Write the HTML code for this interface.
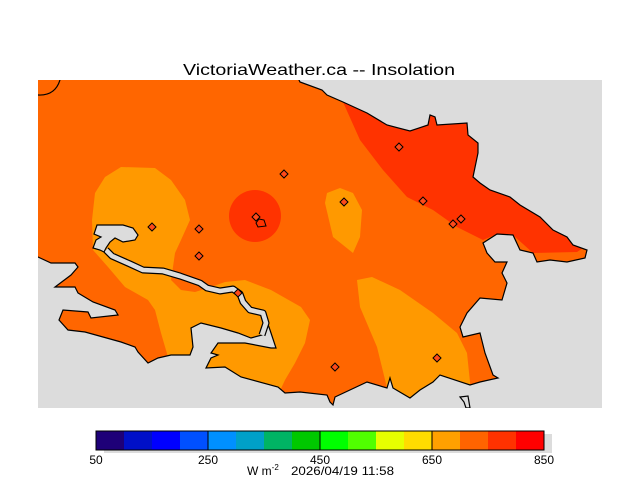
<!DOCTYPE html>
<html><head><meta charset="utf-8"><style>
html,body{margin:0;padding:0;background:#fff;}
svg{display:block;}
text{font-family:"Liberation Sans",sans-serif;fill:#000;}
</style></head><body>
<svg width="640" height="480" viewBox="0 0 640 480" xmlns="http://www.w3.org/2000/svg">
<text x="183" y="75" font-size="16" textLength="272" lengthAdjust="spacingAndGlyphs">VictoriaWeather.ca -- Insolation</text>
<defs><clipPath id="c"><rect x="38" y="80" width="564" height="328"/></clipPath></defs>
<g clip-path="url(#c)">
<rect x="38" y="80" width="564" height="328" fill="#ff6600"/>
<polygon fill="#ff9900" points="95,193 105,177 121,167 155,168 171,180 185,200 190,220 181,240 175,253 173,267 171,280 181,290 195,292 211,287 225,282 245,280 271,290 301,307 310,320 305,343 295,363 285,380 278,395 170,395 168,357 161,333 155,310 148,300 125,287 108,267 93,250 92,220"/>
<polygon fill="#ff9900" points="327,193 340,188 353,193 362,210 360,237 353,253 333,237 325,203"/>
<polygon fill="#ff9900" points="357,280 372,277 400,290 433,313 457,333 467,353 470,382 470,400 390,400 377,347 360,307"/>
<polygon fill="#ff3300" points="343,102 360,140 383,170 407,197 433,210 457,227 483,240 497,234 513,235 533,253 577,252 595,240 480,110 343,90"/>
<circle cx="255" cy="216" r="26" fill="#ff3300"/>
<polygon fill="#dcdcdc" stroke="#000" stroke-width="1.2" points="38,257 51,263 75,263 78,267 71,275 55,287 75,287 78,293 93,302 115,310 118,315 91,318 88,312 63,310 59,320 68,330 85,332 103,337 121,342 135,347 138,352 148,363 158,358 171,355 190,355 193,347 191,328 201,323 221,328 238,333 251,338 262,335 266,325 265,316 270,330 276,348 271,348 245,343 218,343 211,353 218,355 211,358 206,368 225,367 241,377 278,387 285,393 300,392 327,395 330,402 333,405 335,397 367,382 387,388 390,378 393,388 410,398 420,390 433,382 440,375 470,385 480,382 498,378 493,375 485,353 480,333 463,337 460,327 467,313 480,298 502,300 507,283 502,273 507,262 495,262 487,253 483,243 497,234 513,235 520,250 533,253 537,262 550,260 567,262 585,258 587,250 573,245 567,237 553,230 540,217 520,205 510,197 490,190 480,183 473,177 478,153 478,143 468,135 467,123 437,125 435,117 430,115 428,125 410,131 387,125 367,113 343,102 327,95 322,90 300,82 298,78 604,78 604,410 36,410 36,257"/>
<polygon fill="#dcdcdc" stroke="#000" stroke-width="1.2" points="460,397 468,396 470,408 466,408 464,402"/>
<polyline fill="none" stroke="#000" stroke-width="7" stroke-linejoin="round" points="106,250 112,256 130,264 143,270 163,271 180,276 200,283 207,288 220,291 233,289 240,294 243,302 250,310 263,313 266,323 262,335"/>
<polyline fill="none" stroke="#dcdcdc" stroke-width="4.6" stroke-linejoin="round" points="106,250 112,256 130,264 143,270 163,271 180,276 200,283 207,288 220,291 233,289 240,294 243,302 250,310 263,313 266,323 262,335"/>
<polygon fill="#dcdcdc" stroke="#000" stroke-width="1.2" points="97,225 123,225 133,228 138,235 135,240 123,242 115,238 110,242 106,248 104,252 100,250 93,248 96,240 101,237 94,234"/>
<path d="M38,95 Q55,96 60,80" fill="none" stroke="#000" stroke-width="1.2"/>
<path d="M259,219 L264,220 L266,226 L258,227 L256,223 Z" fill="none" stroke="#000" stroke-width="1"/>
<g fill="#ff4a1a" stroke="#000" stroke-width="1">
<polygon points="152,223 156,227 152,231 148,227"/>
<polygon points="199,225 203,229 199,233 195,229"/>
<polygon points="199,252 203,256 199,260 195,256"/>
<polygon points="284,170 288,174 284,178 280,174"/>
<polygon points="256,213 260,217 256,221 252,217"/>
<polygon points="238,289 242,293 238,297 234,293"/>
<polygon points="344,198 348,202 344,206 340,202"/>
<polygon points="399,143 403,147 399,151 395,147"/>
<polygon points="423,197 427,201 423,205 419,201"/>
<polygon points="453,220 457,224 453,228 449,224"/>
<polygon points="461,215 465,219 461,223 457,219"/>
<polygon points="335,363 339,367 335,371 331,367"/>
<polygon points="437,354 441,358 437,362 433,358"/>
</g>
</g>
<rect x="104" y="434" width="448" height="19" fill="#dcdcdc"/>
<g stroke="none">
<rect x="96" y="431" width="28" height="19" fill="#1e0078"/>
<rect x="124" y="431" width="28" height="19" fill="#0010c8"/>
<rect x="152" y="431" width="28" height="19" fill="#0000ff"/>
<rect x="180" y="431" width="28" height="19" fill="#0050ff"/>
<rect x="208" y="431" width="28" height="19" fill="#0090ff"/>
<rect x="236" y="431" width="28" height="19" fill="#00a0c8"/>
<rect x="264" y="431" width="28" height="19" fill="#00b464"/>
<rect x="292" y="431" width="28" height="19" fill="#00c800"/>
<rect x="320" y="431" width="28" height="19" fill="#00ff00"/>
<rect x="348" y="431" width="28" height="19" fill="#50ff00"/>
<rect x="376" y="431" width="28" height="19" fill="#e6ff00"/>
<rect x="404" y="431" width="28" height="19" fill="#ffdc00"/>
<rect x="432" y="431" width="28" height="19" fill="#ffa000"/>
<rect x="460" y="431" width="28" height="19" fill="#ff6400"/>
<rect x="488" y="431" width="28" height="19" fill="#ff3200"/>
<rect x="516" y="431" width="28" height="19" fill="#ff0000"/>
</g>
<rect x="96" y="431" width="448" height="19" fill="none" stroke="#000" stroke-width="1"/>
<g stroke="#000" stroke-width="1"><line x1="208" y1="431" x2="208" y2="450"/><line x1="320" y1="431" x2="320" y2="450"/><line x1="432" y1="431" x2="432" y2="450"/></g>
<g font-size="12" text-anchor="middle">
<text x="96" y="464">50</text><text x="208" y="464">250</text><text x="320" y="464">450</text><text x="432" y="464">650</text><text x="544" y="464">850</text>
</g>
<text x="247" y="475" font-size="12">W m<tspan font-size="8" dy="-5">-2</tspan></text>
<text x="291" y="475" font-size="12" textLength="103" lengthAdjust="spacingAndGlyphs">2026/04/19 11:58</text>
</svg>
</body></html>
